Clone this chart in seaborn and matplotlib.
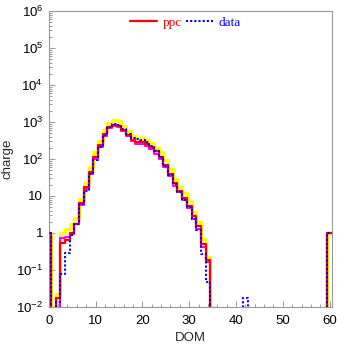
import numpy as np
import pandas as pd
import matplotlib
matplotlib.use("Agg")
import matplotlib.pyplot as plt
from matplotlib.ticker import FixedLocator, FixedFormatter, MultipleLocator, LogLocator, NullFormatter
import seaborn as sns

# ---------------- data ----------------
dom = [0, 1, 2, 3, 4, 5, 6, 7, 8, 9, 10, 11, 12, 13, 14, 15, 16, 17, 18, 19,
       20, 21, 22, 23, 24, 25, 26, 27, 28, 29, 30, 31, 32, 33, 34, 42, 60]
ppc = [1.0, 0, 0.018, 0.52, 0.65, 1.0, 1.8, 6.5, 17, 45, 115, 240, 480, 740, 850,
       800, 620, 450, 330, 290, 280, 250, 210, 160, 115, 70, 40, 22, 14, 9.0, 5.5,
       2.8, 1.5, 0.50, 0.19, 0, 1.0]
data = [1.0, 0, 0.014, 0.078, 0.28, 0.88, 1.8, 6.0, 14, 40, 95, 210, 450, 720, 880,
        820, 650, 470, 370, 340, 320, 280, 220, 160, 110, 65, 37, 21, 13, 8.0, 5.0,
        2.4, 1.2, 0.27, 0.048, 0.017, 1.0]
upper = [1.0, 0, 0.022, 1.0, 1.25, 1.7, 2.5, 8.5, 22, 60, 150, 310, 620, 950, 1100,
         1050, 800, 580, 430, 370, 360, 320, 270, 200, 150, 92, 52, 29, 18, 12, 7.3,
         3.7, 2.0, 0.67, 0.23, 0, 1.0]
lower = [1.0, 0, 0, 0.75, 0.8, 0.95, 1.7, 5.8, 15, 40, 100, 215, 430, 680, 790,
         740, 570, 410, 300, 260, 250, 225, 190, 135, 98, 60, 34, 19, 12.5, 7.8, 4.8,
         2.4, 1.3, 0.42, 0.16, 0, 1.0]
series_labels = ["ppc", "data"]
xtick_vals = [0, 10, 20, 30, 40, 50, 60]
xtick_labels = ["0", "10", "20", "30", "40", "50", "60"]
ytick_vals = [1e-2, 1e-1, 1, 10, 1e2, 1e3, 1e4, 1e5, 1e6]
ytick_labels = [r"$10^{-2}$", r"$10^{-1}$", "1", "10", r"$10^{2}$", r"$10^{3}$",
                r"$10^{4}$", r"$10^{5}$", r"$10^{6}$"]

df = pd.DataFrame({"DOM": dom, "ppc": ppc, "data": data, "upper": upper, "lower": lower})

# ---------------- style ----------------
sns.set_style("white")
plt.rcParams["font.family"] = ["Liberation Sans", "DejaVu Sans"]
plt.rcParams["mathtext.fontset"] = "custom"
plt.rcParams["mathtext.rm"] = "Liberation Sans"
plt.rcParams["mathtext.it"] = "Liberation Sans:italic"
plt.rcParams["mathtext.bf"] = "Liberation Sans:bold"

fig = plt.figure(figsize=(3.37, 3.44), dpi=100)
fig.patch.set_facecolor("white")
ax = fig.add_axes([0.1445, 0.1076, 0.8407, 0.8605])
ax.set_facecolor("white")

edges = [e - 0.5 for e in range(0, 62)]

sns.histplot(data=df, x="DOM", weights="upper", bins=edges, element="step",
             fill=False, color="#ffff00", linewidth=2.3, ax=ax, zorder=1)
sns.histplot(data=df, x="DOM", weights="lower", bins=edges, element="step",
             fill=False, color="#ff00ff", linewidth=1.5, ax=ax, zorder=2)
sns.histplot(data=df, x="DOM", weights="ppc", bins=edges, element="step",
             fill=False, color="#ff0000", linewidth=1.6, ax=ax, zorder=3)
line_ppc = ax.lines[-1]
sns.histplot(data=df, x="DOM", weights="data", bins=edges, element="step",
             fill=False, color="#0000ff", linewidth=1.5, linestyle=(0, (1, 1)),
             ax=ax, zorder=4)
line_data = ax.lines[-1]

ax.set_yscale("log")
ax.set_xlim(0, 60.5)
ax.set_ylim(1e-2, 1e6)

# ticks
ax.xaxis.set_major_locator(FixedLocator(xtick_vals))
ax.xaxis.set_major_formatter(FixedFormatter(xtick_labels))
ax.xaxis.set_minor_locator(MultipleLocator(2))
ax.yaxis.set_major_locator(FixedLocator(ytick_vals))
ax.yaxis.set_major_formatter(FixedFormatter(ytick_labels))
ax.yaxis.set_minor_locator(LogLocator(base=10, subs=np.arange(2, 10), numticks=100))
ax.yaxis.set_minor_formatter(NullFormatter())

grey = "#999999"
ax.tick_params(axis="both", which="both", bottom=True, left=True, top=False, right=False)
ax.tick_params(axis="both", which="major", direction="in", length=4.5, width=0.7,
               color=grey, labelsize=9.5, labelcolor="black")
ax.tick_params(axis="both", which="minor", direction="in", length=2.3, width=0.7,
               color=grey)
ax.tick_params(axis="x", which="major", pad=5.5)
ax.tick_params(axis="y", which="major", pad=4)
for sp in ax.spines.values():
    sp.set_visible(True)
    sp.set_color(grey)
    sp.set_linewidth(0.8)

ax.set_xlabel("DOM", fontsize=9.5)
ax.set_ylabel("charge", fontsize=9.5)
ax.xaxis.set_label_coords(0.5, -0.083)
ax.yaxis.set_label_coords(-0.1225, 0.5)

leg = ax.legend(handles=[line_ppc, line_data], labels=series_labels, ncol=2,
                loc="center", bbox_to_anchor=(0.483, 0.9605), frameon=False,
                prop={"family": "Liberation Serif", "size": 9.5},
                handlelength=2.0, handletextpad=0.45, columnspacing=0.35,
                labelcolor="linecolor", borderpad=0, borderaxespad=0)

fig.savefig("out.png", dpi=100, facecolor="white")
